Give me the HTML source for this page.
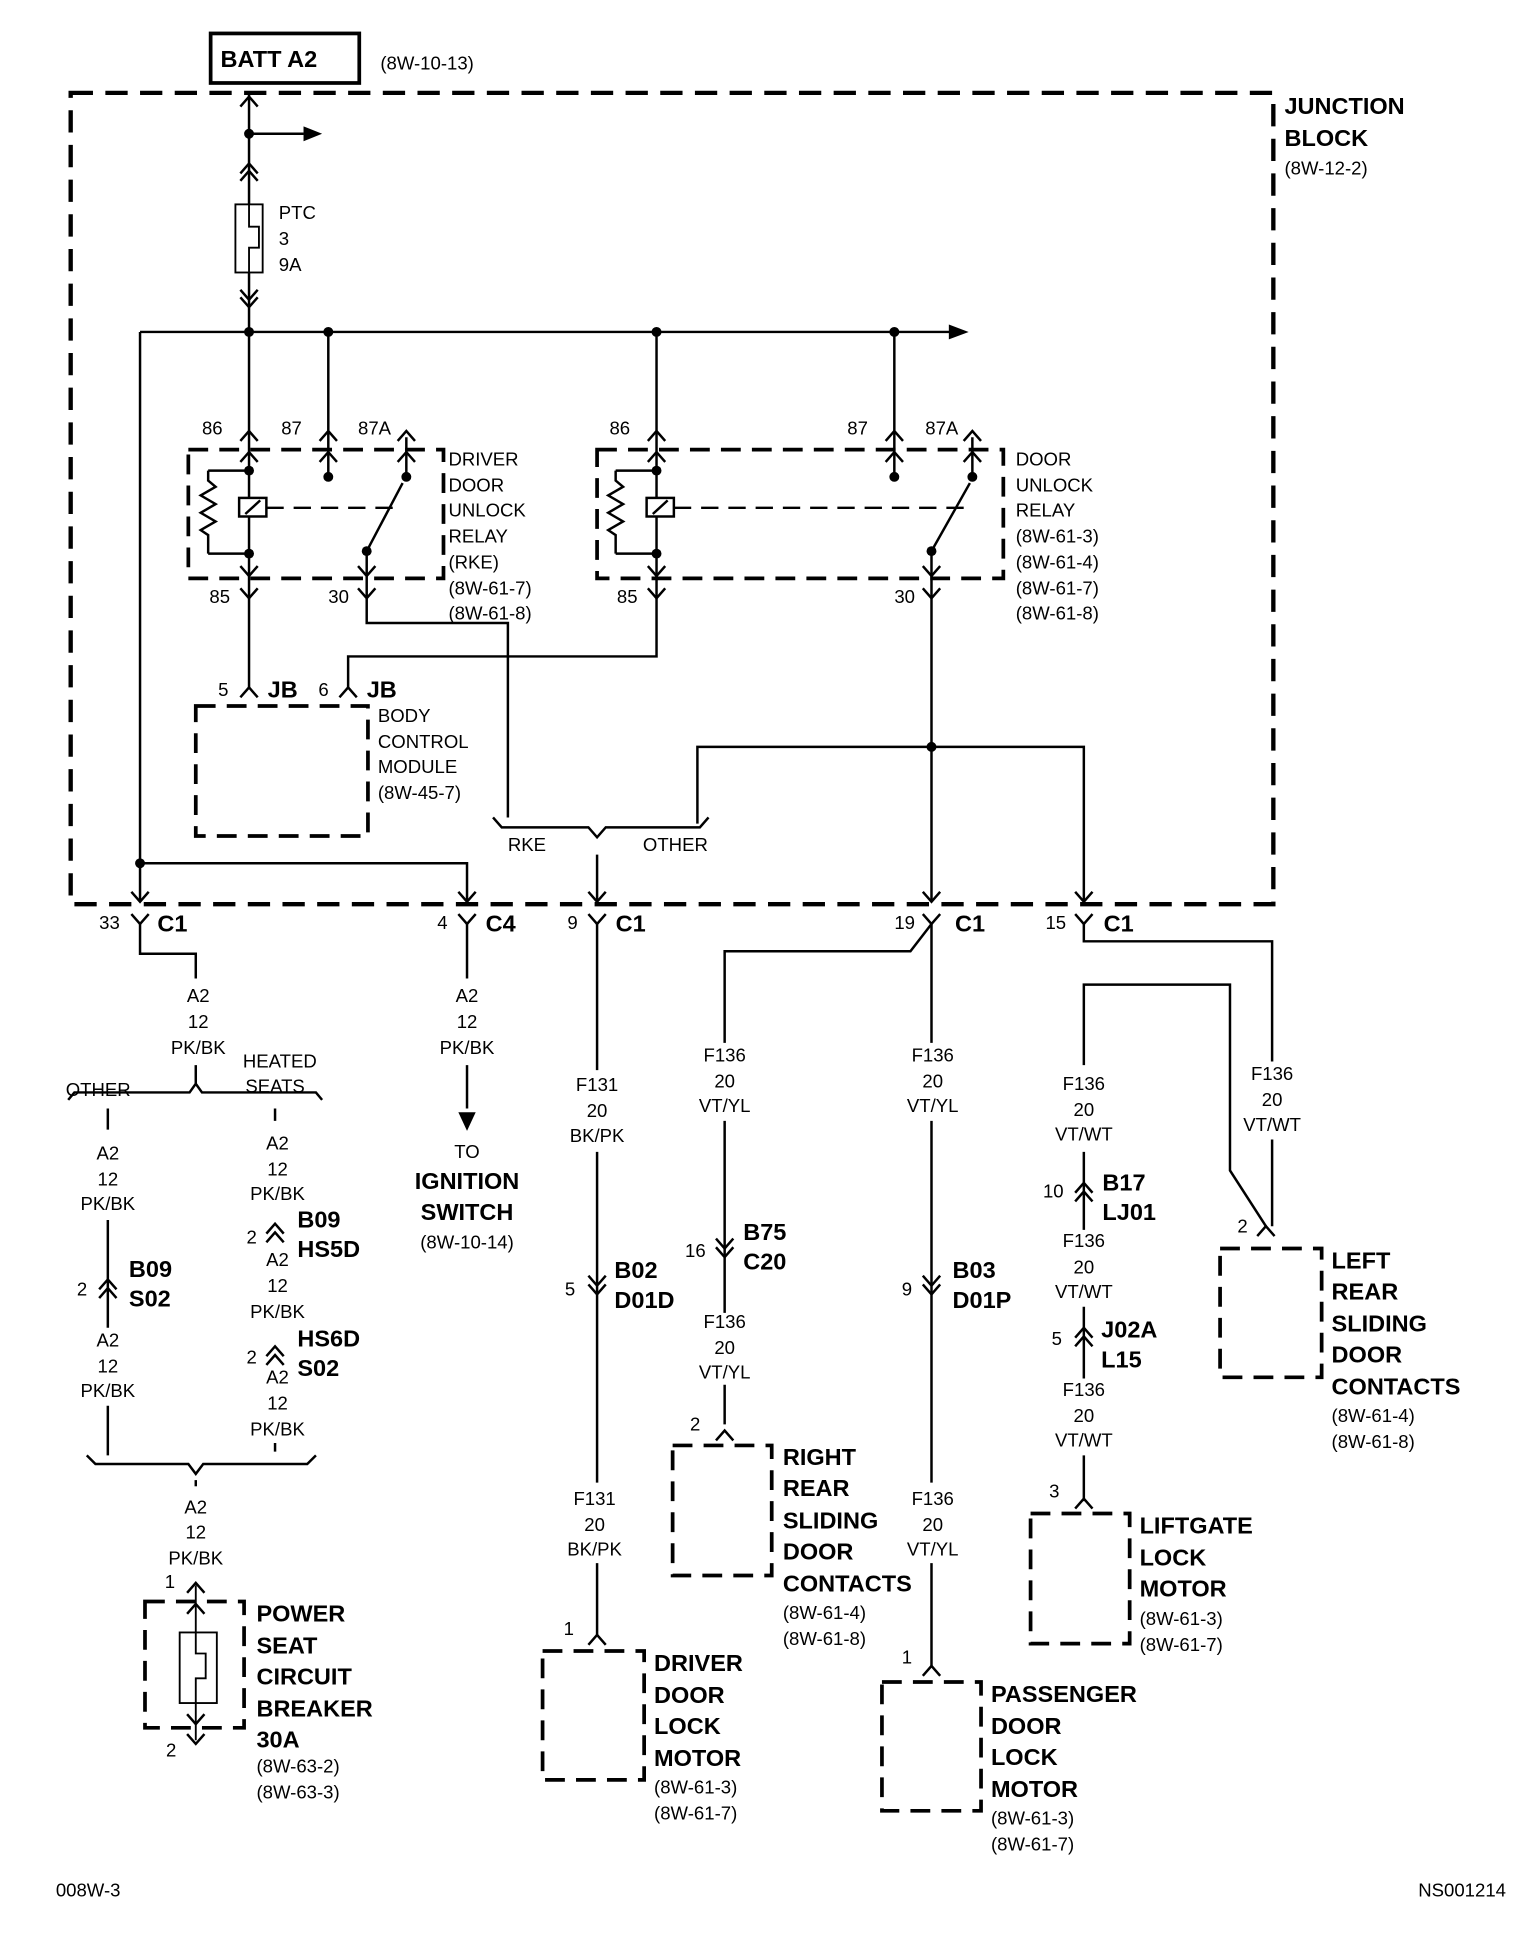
<!DOCTYPE html>
<html><head><meta charset="utf-8"><style>
html,body{margin:0;padding:0;background:#fff}
svg{display:block}
text{font-family:"Liberation Sans",Arial,sans-serif;fill:#000}
.s{font-size:15px}
.b{font-size:19px;font-weight:bold}
.m{text-anchor:middle}
</style></head><body>
<svg width="1536" height="1952" viewBox="0 0 1240 1576" xmlns="http://www.w3.org/2000/svg">
<defs>
<path id="up" d="M-7,8 L0,0 L7,8" fill="none" stroke="#000" stroke-width="2"/>
<path id="dn" d="M-7,-8 L0,0 L7,-8" fill="none" stroke="#000" stroke-width="2"/>
</defs>
<g fill="none" stroke="#000" stroke-width="2">
<rect x="57" y="75" width="971" height="655" stroke-width="3.5" stroke-dasharray="18,10"/>
<rect x="170" y="27" width="120" height="40" stroke-width="3"/>
<path d="M201,75 V268"/>
<path d="M201,108 H245"/>
<rect x="190" y="165" width="22" height="55" stroke-width="1.5" fill="#fff"/>
<path d="M201,165 V183 H209 V200 H201 V220" stroke-width="1.5"/>
<path d="M113,268 H768"/>
<path d="M113,268 V728"/>
<path d="M113,697 H377 V728"/>
<path d="M201,268 V378"/><path d="M265,268 V385"/>
<rect x="152" y="363" width="206" height="104" stroke-width="3" stroke-dasharray="16,9"/>
<path d="M201,378 V447 M168,380 H201 M168,447 H201 M168,380 V388 L174,393 L162,400 L174,407 L162,414 L174,421 L162,428 L168,432 V447"/>
<rect x="193" y="402" width="22" height="15" fill="#fff"/>
<path d="M198,415 L210,404"/>
<path d="M215,410 H322" stroke-dasharray="14,8"/>
<path d="M328,353 V385 M296,445 L325,390 M296,445 V483"/>
<path d="M201,447 V555"/>
<path d="M296,483 V503 H410 V660"/>
<path d="M530,268 V378"/><path d="M722,268 V385"/>
<rect x="482" y="363" width="328" height="104" stroke-width="3" stroke-dasharray="16,9"/>
<path d="M530,378 V447 M497,380 H530 M497,447 H530 M497,380 V388 L503,393 L491,400 L503,407 L491,414 L503,421 L491,428 L497,432 V447"/>
<rect x="522" y="402" width="22" height="15" fill="#fff"/>
<path d="M527,415 L539,404"/>
<path d="M544,410 H780" stroke-dasharray="14,8"/>
<path d="M785,353 V385 M752,445 L783,390 M752,445 V728"/>
<path d="M530,447 V530 H281 V555"/>
<rect x="158" y="570" width="139" height="105" stroke-width="3" stroke-dasharray="16,9"/>
<path d="M398,660 L405,668 H475 L482,676 L489,668 H565 L572,660"/>
<path d="M482,690 V728"/>
<path d="M563,665 V603 H875 V728"/>
<!-- below JB -->
<path d="M113,746 V770 H158 V790"/>
<path d="M158,860 V875 L153,882 H60 L55,888 M158,875 L163,882 H255 L260,888"/>
<path d="M87,895 V912 M87,985 V1072 M87,1135 V1175"/>
<path d="M222,895 V905 M222,1165 V1172"/>
<path d="M70,1175 L77,1182 H152 L158,1190 L164,1182 H248 L255,1175"/>
<path d="M158,1195 V1200"/>
<path d="M377,746 V790 M377,860 V895"/>
<path d="M482,746 V864 M482,930 V1197 M482,1262 V1320"/>
<path d="M752,746 L735,768 H585 V842 M585,905 V1060 M585,1118 V1150"/>
<path d="M752,746 V842 M752,905 V1197 M752,1262 V1345"/>
<path d="M875,746 V760 H1027 V857 M1027,920 V990"/>
<path d="M875,860 V795 H993 V945 L1022,990"/>
<path d="M875,930 V993 M875,1055 V1113 M875,1175 V1212"/>
<rect x="117" y="1293" width="80" height="102" stroke-width="3" stroke-dasharray="16,9"/>
<path d="M158,1280 V1405" stroke-width="1.5"/>
<rect x="145" y="1318" width="30" height="57" stroke-width="1.5" fill="#fff"/>
<path d="M158,1318 V1335 H166 V1355 H158 V1375" stroke-width="1.5"/>
<rect x="438" y="1333" width="82" height="104" stroke-width="3" stroke-dasharray="16,9"/>
<rect x="543" y="1167" width="80" height="105" stroke-width="3" stroke-dasharray="16,9"/>
<rect x="712" y="1358" width="80" height="104" stroke-width="3" stroke-dasharray="16,9"/>
<rect x="832" y="1222" width="80" height="105" stroke-width="3" stroke-dasharray="16,9"/>
<rect x="985" y="1008" width="82" height="104" stroke-width="3" stroke-dasharray="16,9"/>
</g>
<g fill="#000">
<path d="M245,102 L260,108 L245,114Z"/>
<path d="M766,262 L782,268 L766,274Z"/>
<path d="M370,898 L377,913 L384,898Z"/>
<circle cx="201" cy="108" r="4"/><circle cx="201" cy="268" r="4"/><circle cx="265" cy="268" r="4"/>
<circle cx="530" cy="268" r="4"/><circle cx="722" cy="268" r="4"/><circle cx="113" cy="697" r="4"/>
<circle cx="201" cy="380" r="4"/><circle cx="201" cy="447" r="4"/><circle cx="265" cy="385" r="4"/>
<circle cx="328" cy="385" r="4"/><circle cx="296" cy="445" r="4"/>
<circle cx="530" cy="380" r="4"/><circle cx="530" cy="447" r="4"/><circle cx="722" cy="385" r="4"/>
<circle cx="785" cy="385" r="4"/><circle cx="752" cy="445" r="4"/><circle cx="752" cy="603" r="4"/>
</g>
<use href="#up" x="201" y="78"/>
<use href="#up" x="201" y="132"/><use href="#up" x="201" y="138"/>
<use href="#dn" x="201" y="242"/><use href="#dn" x="201" y="248"/>
<use href="#up" x="201" y="348"/><use href="#up" x="201" y="365"/>
<use href="#up" x="265" y="348"/><use href="#up" x="265" y="365"/>
<use href="#up" x="328" y="348"/><use href="#up" x="328" y="365"/>
<use href="#dn" x="201" y="465"/><use href="#dn" x="201" y="483"/>
<use href="#dn" x="296" y="465"/><use href="#dn" x="296" y="483"/>
<use href="#up" x="530" y="348"/><use href="#up" x="530" y="365"/>
<use href="#up" x="722" y="348"/><use href="#up" x="722" y="365"/>
<use href="#up" x="785" y="348"/><use href="#up" x="785" y="365"/>
<use href="#dn" x="530" y="465"/><use href="#dn" x="530" y="483"/>
<use href="#dn" x="752" y="465"/><use href="#dn" x="752" y="483"/>
<use href="#up" x="201" y="555"/><use href="#up" x="281" y="555"/>
<use href="#dn" x="113" y="728"/><use href="#dn" x="113" y="746"/>
<use href="#dn" x="377" y="728"/><use href="#dn" x="377" y="746"/>
<use href="#dn" x="482" y="728"/><use href="#dn" x="482" y="746"/>
<use href="#dn" x="752" y="728"/><use href="#dn" x="752" y="746"/>
<use href="#dn" x="875" y="728"/><use href="#dn" x="875" y="746"/>
<use href="#up" x="87" y="1033"/><use href="#up" x="87" y="1040"/>
<use href="#up" x="222" y="988"/><use href="#up" x="222" y="995"/>
<use href="#up" x="222" y="1087"/><use href="#up" x="222" y="1094"/>
<use href="#up" x="158" y="1278"/><use href="#up" x="158" y="1295"/>
<use href="#dn" x="158" y="1392"/><use href="#dn" x="158" y="1408"/>
<use href="#dn" x="482" y="1038"/><use href="#dn" x="482" y="1045"/>
<use href="#up" x="482" y="1320"/>
<use href="#dn" x="585" y="1008"/><use href="#dn" x="585" y="1015"/>
<use href="#up" x="585" y="1155"/>
<use href="#dn" x="752" y="1038"/><use href="#dn" x="752" y="1045"/>
<use href="#up" x="752" y="1345"/>
<use href="#up" x="875" y="955"/><use href="#up" x="875" y="962"/>
<use href="#up" x="875" y="1072"/><use href="#up" x="875" y="1079"/>
<use href="#up" x="875" y="1210"/>
<use href="#up" x="1022" y="990"/>
<text class="b" x="178" y="54">BATT A2</text>
<text class="s" x="307" y="56">(8W-10-13)</text>
<text class="b" x="1037" y="92">JUNCTION</text>
<text class="b" x="1037" y="118">BLOCK</text>
<text class="s" x="1037" y="141">(8W-12-2)</text>
<text class="s" x="225" y="177">PTC</text><text class="s" x="225" y="198">3</text><text class="s" x="225" y="219">9A</text>
<text class="s" x="163" y="351">86</text><text class="s" x="227" y="351">87</text><text class="s" x="289" y="351">87A</text>
<text class="s" x="492" y="351">86</text><text class="s" x="684" y="351">87</text><text class="s" x="747" y="351">87A</text>
<text class="s" x="169" y="487">85</text><text class="s" x="265" y="487">30</text>
<text class="s" x="498" y="487">85</text><text class="s" x="722" y="487">30</text>
<g class="s">
<text x="362" y="376">DRIVER</text><text x="362" y="397">DOOR</text><text x="362" y="417">UNLOCK</text><text x="362" y="438">RELAY</text><text x="362" y="459">(RKE)</text><text x="362" y="480">(8W-61-7)</text><text x="362" y="500">(8W-61-8)</text>
<text x="820" y="376">DOOR</text><text x="820" y="397">UNLOCK</text><text x="820" y="417">RELAY</text><text x="820" y="438">(8W-61-3)</text><text x="820" y="459">(8W-61-4)</text><text x="820" y="480">(8W-61-7)</text><text x="820" y="500">(8W-61-8)</text>
<text x="305" y="583">BODY</text><text x="305" y="604">CONTROL</text><text x="305" y="624">MODULE</text><text x="305" y="645">(8W-45-7)</text>
<text x="410" y="687">RKE</text><text x="519" y="687">OTHER</text>
<text x="176" y="562">5</text><text x="257" y="562">6</text>
<text x="80" y="750">33</text><text x="353" y="750">4</text><text x="458" y="750">9</text><text x="722" y="750">19</text><text x="844" y="750">15</text>
</g>
<g class="b">
<text x="216" y="563">JB</text><text x="296" y="563">JB</text>
<text x="127" y="752">C1</text><text x="392" y="752">C4</text><text x="497" y="752">C1</text><text x="771" y="752">C1</text><text x="891" y="752">C1</text>
</g>
<g class="s m">
<text x="160" y="809">A2</text><text x="160" y="830">12</text><text x="160" y="851">PK/BK</text>
<text x="377" y="809">A2</text><text x="377" y="830">12</text><text x="377" y="851">PK/BK</text>
<text x="377" y="935">TO</text><text x="377" y="1008">(8W-10-14)</text>
<text x="87" y="936">A2</text><text x="87" y="957">12</text><text x="87" y="977">PK/BK</text>
<text x="87" y="1087">A2</text><text x="87" y="1108">12</text><text x="87" y="1128">PK/BK</text>
<text x="224" y="928">A2</text><text x="224" y="949">12</text><text x="224" y="969">PK/BK</text>
<text x="224" y="1022">A2</text><text x="224" y="1043">12</text><text x="224" y="1064">PK/BK</text>
<text x="224" y="1117">A2</text><text x="224" y="1138">12</text><text x="224" y="1159">PK/BK</text>
<text x="158" y="1222">A2</text><text x="158" y="1242">12</text><text x="158" y="1263">PK/BK</text>
<text x="482" y="881">F131</text><text x="482" y="902">20</text><text x="482" y="922">BK/PK</text>
<text x="480" y="1215">F131</text><text x="480" y="1236">20</text><text x="480" y="1256">BK/PK</text>
<text x="585" y="857">F136</text><text x="585" y="878">20</text><text x="585" y="898">VT/YL</text>
<text x="585" y="1072">F136</text><text x="585" y="1093">20</text><text x="585" y="1113">VT/YL</text>
<text x="753" y="857">F136</text><text x="753" y="878">20</text><text x="753" y="898">VT/YL</text>
<text x="753" y="1215">F136</text><text x="753" y="1236">20</text><text x="753" y="1256">VT/YL</text>
<text x="875" y="880">F136</text><text x="875" y="901">20</text><text x="875" y="921">VT/WT</text>
<text x="875" y="1007">F136</text><text x="875" y="1028">20</text><text x="875" y="1048">VT/WT</text>
<text x="875" y="1127">F136</text><text x="875" y="1148">20</text><text x="875" y="1168">VT/WT</text>
<text x="1027" y="872">F136</text><text x="1027" y="893">20</text><text x="1027" y="913">VT/WT</text>
</g>
<g class="s">
<text x="53" y="885">OTHER</text><text x="196" y="862">HEATED</text><text x="198" y="882">SEATS</text>
<text x="62" y="1046">2</text><text x="199" y="1004">2</text><text x="199" y="1101">2</text>
<text x="133" y="1282">1</text><text x="134" y="1418">2</text>
<text x="456" y="1046">5</text><text x="455" y="1320">1</text>
<text x="553" y="1015">16</text><text x="557" y="1155">2</text>
<text x="728" y="1046">9</text><text x="728" y="1343">1</text>
<text x="842" y="967">10</text><text x="849" y="1086">5</text><text x="847" y="1209">3</text>
<text x="999" y="995">2</text>
<text x="207" y="1431">(8W-63-2)</text><text x="207" y="1452">(8W-63-3)</text>
<text x="528" y="1448">(8W-61-3)</text><text x="528" y="1469">(8W-61-7)</text>
<text x="632" y="1307">(8W-61-4)</text><text x="632" y="1328">(8W-61-8)</text>
<text x="800" y="1473">(8W-61-3)</text><text x="800" y="1494">(8W-61-7)</text>
<text x="920" y="1312">(8W-61-3)</text><text x="920" y="1333">(8W-61-7)</text>
<text x="1075" y="1148">(8W-61-4)</text><text x="1075" y="1169">(8W-61-8)</text>
<text x="45" y="1531">008W-3</text><text x="1145" y="1531">NS001214</text>
</g>
<g class="b">
<text x="377" y="960" text-anchor="middle">IGNITION</text><text x="377" y="985" text-anchor="middle">SWITCH</text>
<text x="104" y="1031">B09</text><text x="104" y="1055">S02</text>
<text x="240" y="991">B09</text><text x="240" y="1015">HS5D</text>
<text x="240" y="1087">HS6D</text><text x="240" y="1111">S02</text>
<text x="207" y="1309">POWER</text><text x="207" y="1335">SEAT</text><text x="207" y="1360">CIRCUIT</text><text x="207" y="1386">BREAKER</text><text x="207" y="1411">30A</text>
<text x="496" y="1032">B02</text><text x="496" y="1056">D01D</text>
<text x="528" y="1349">DRIVER</text><text x="528" y="1375">DOOR</text><text x="528" y="1400">LOCK</text><text x="528" y="1426">MOTOR</text>
<text x="600" y="1001">B75</text><text x="600" y="1025">C20</text>
<text x="632" y="1183">RIGHT</text><text x="632" y="1208">REAR</text><text x="632" y="1234">SLIDING</text><text x="632" y="1259">DOOR</text><text x="632" y="1285">CONTACTS</text>
<text x="769" y="1032">B03</text><text x="769" y="1056">D01P</text>
<text x="800" y="1374">PASSENGER</text><text x="800" y="1400">DOOR</text><text x="800" y="1425">LOCK</text><text x="800" y="1451">MOTOR</text>
<text x="890" y="961">B17</text><text x="890" y="985">LJ01</text>
<text x="889" y="1080">J02A</text><text x="889" y="1104">L15</text>
<text x="920" y="1238">LIFTGATE</text><text x="920" y="1264">LOCK</text><text x="920" y="1289">MOTOR</text>
<text x="1075" y="1024">LEFT</text><text x="1075" y="1049">REAR</text><text x="1075" y="1075">SLIDING</text><text x="1075" y="1100">DOOR</text><text x="1075" y="1126">CONTACTS</text>
</g>
</svg>
</body></html>
